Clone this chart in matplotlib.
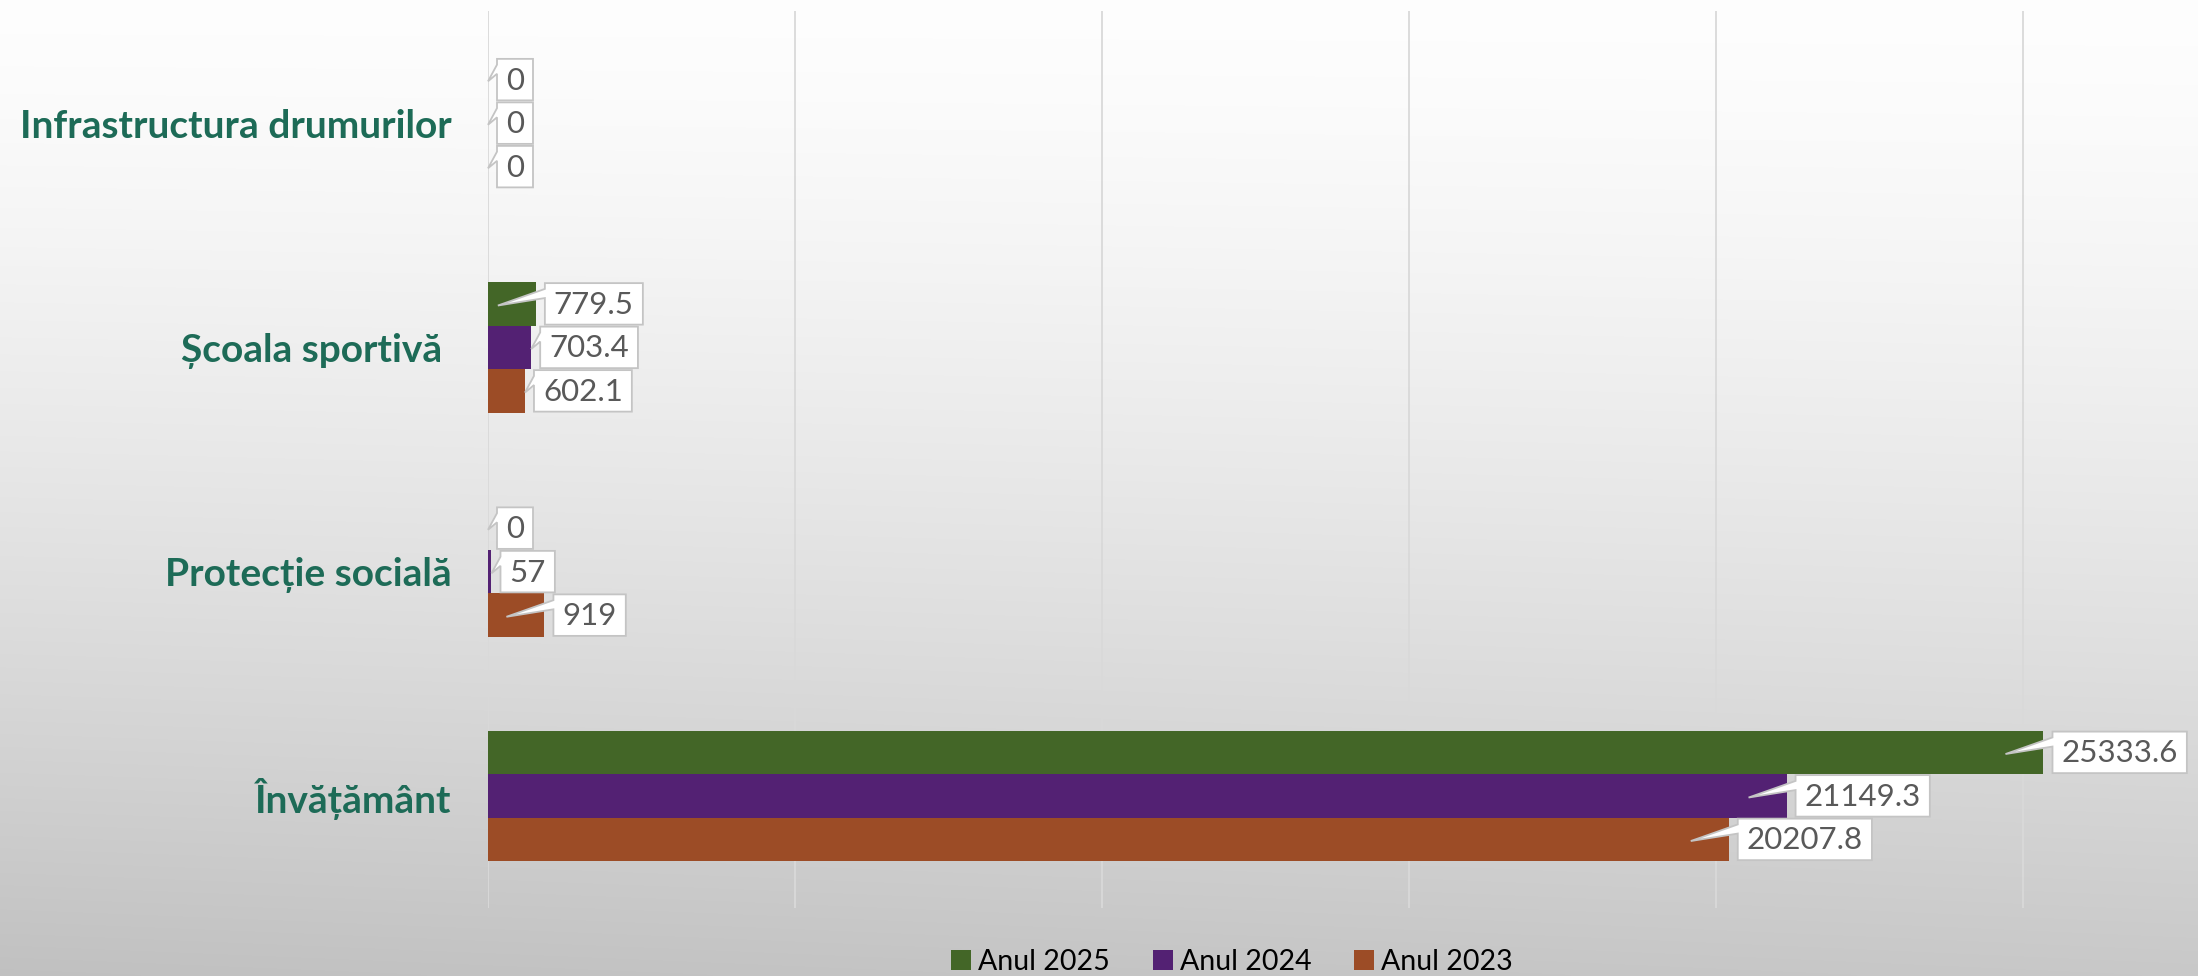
import matplotlib
matplotlib.use('Agg')
import matplotlib.pyplot as plt
import numpy as np
from matplotlib.patches import Polygon, Patch
from matplotlib.transforms import IdentityTransform

# ---------------- data ----------------
categories = ['Învățământ', 'Protecție socială', 'Școala sportivă ', 'Infrastructura drumurilor']
series_names = ['Anul 2025', 'Anul 2024', 'Anul 2023']
values_2025 = [25333.6, 0, 779.5, 0]
values_2024 = [21149.3, 57, 703.4, 0]
values_2023 = [20207.8, 919, 602.1, 0]
series_values = [values_2025, values_2024, values_2023]
colors = ['#436627', '#532173', '#9C4C26']

FONT = ['Lato', 'DejaVu Sans']
plt.rcParams['font.family'] = FONT

W, H, DPI = 2198, 976, 100
fig = plt.figure(figsize=(W / DPI, H / DPI), dpi=DPI)

# background gradient
bg = fig.add_axes([0, 0, 1, 1], zorder=-10)
yy = np.linspace(0, 1, 400)[:, None]
xx = np.linspace(0, 1, 200)[None, :]
grad = 0.995 - 0.21 * yy ** 1.4 - 0.03 * (1 - xx) * yy
bg.imshow(np.dstack([grad, grad, grad]), aspect='auto', extent=[0, 1, 0, 1],
          origin='upper', interpolation='bilinear')
bg.axis('off')

ax = fig.add_axes([488 / W, (976 - 908) / H, 1 - 488 / W, (908 - 11) / H], zorder=1)
ax.set_facecolor('none')

bar_h = 0.194
offsets = [bar_h, 0, -bar_h]
y = np.arange(len(categories))
for vals, col, off, name in zip(series_values, colors, offsets, series_names):
    ax.barh(y + off, vals, height=bar_h, color=col, linewidth=0, zorder=3, label=name)

ax.set_xlim(0, 27850)
ax.set_ylim(-0.5, len(categories) - 0.5)
ax.set_xticks(np.arange(0, 27850, 5000))
ax.xaxis.grid(True, color='#D9D9D9', linewidth=1.3, zorder=0)
ax.tick_params(axis='x', length=0, labelbottom=False)
ax.set_yticks(y)
ax.set_yticklabels(categories, fontsize=28, fontweight='bold', color='#1D6B57')
ax.tick_params(axis='y', length=0, pad=26)
for s in ax.spines.values():
    s.set_visible(False)

# data labels with callouts
fig.canvas.draw()
renderer = fig.canvas.get_renderer()
gap, pad = 9, 9
for vals, off in zip(series_values, offsets):
    for i, v in enumerate(vals):
        yc = y[i] + off
        px, py = ax.transData.transform((v, yc))
        x0, _ = ax.transData.transform((0, yc))
        _, ytop = ax.transData.transform((v, yc + bar_h / 2))
        _, ybot = ax.transData.transform((v, yc - bar_h / 2))
        label = f'{v:g}'
        t = ax.text(px + gap + pad, (ytop + ybot) / 2 - 1, label, transform=IdentityTransform(),
                    ha='left', va='center', fontsize=22.5, color='#595959', zorder=7, clip_on=False)
        bb = t.get_window_extent(renderer)
        L = px + gap
        R = L + pad + bb.width + pad
        T = ytop - 1
        B = ybot + 1
        h = T - B
        base_hi = T - 0.14 * h
        base_lo = T - 0.36 * h
        tipx = px - 38 if (px - x0) > 45 else px
        tipy = py - 0.04 * h
        poly = Polygon([(L, T), (R, T), (R, B), (L, B), (L, base_lo), (tipx, tipy), (L, base_hi)],
                       closed=True, facecolor='white', edgecolor='#C4C4C4', linewidth=1.3,
                       transform=IdentityTransform(), zorder=6, clip_on=False)
        ax.add_patch(poly)

handles = [Patch(facecolor=c, edgecolor='none') for c in colors]
fig.legend(handles, series_names, loc='center', bbox_to_anchor=(1232 / W, 1 - 962 / H),
           ncol=3, frameon=False, fontsize=20.5, handlelength=0.7, handleheight=0.7,
           handletextpad=0.25, columnspacing=1.5, labelcolor='black')

fig.savefig('out.png', dpi=DPI)
